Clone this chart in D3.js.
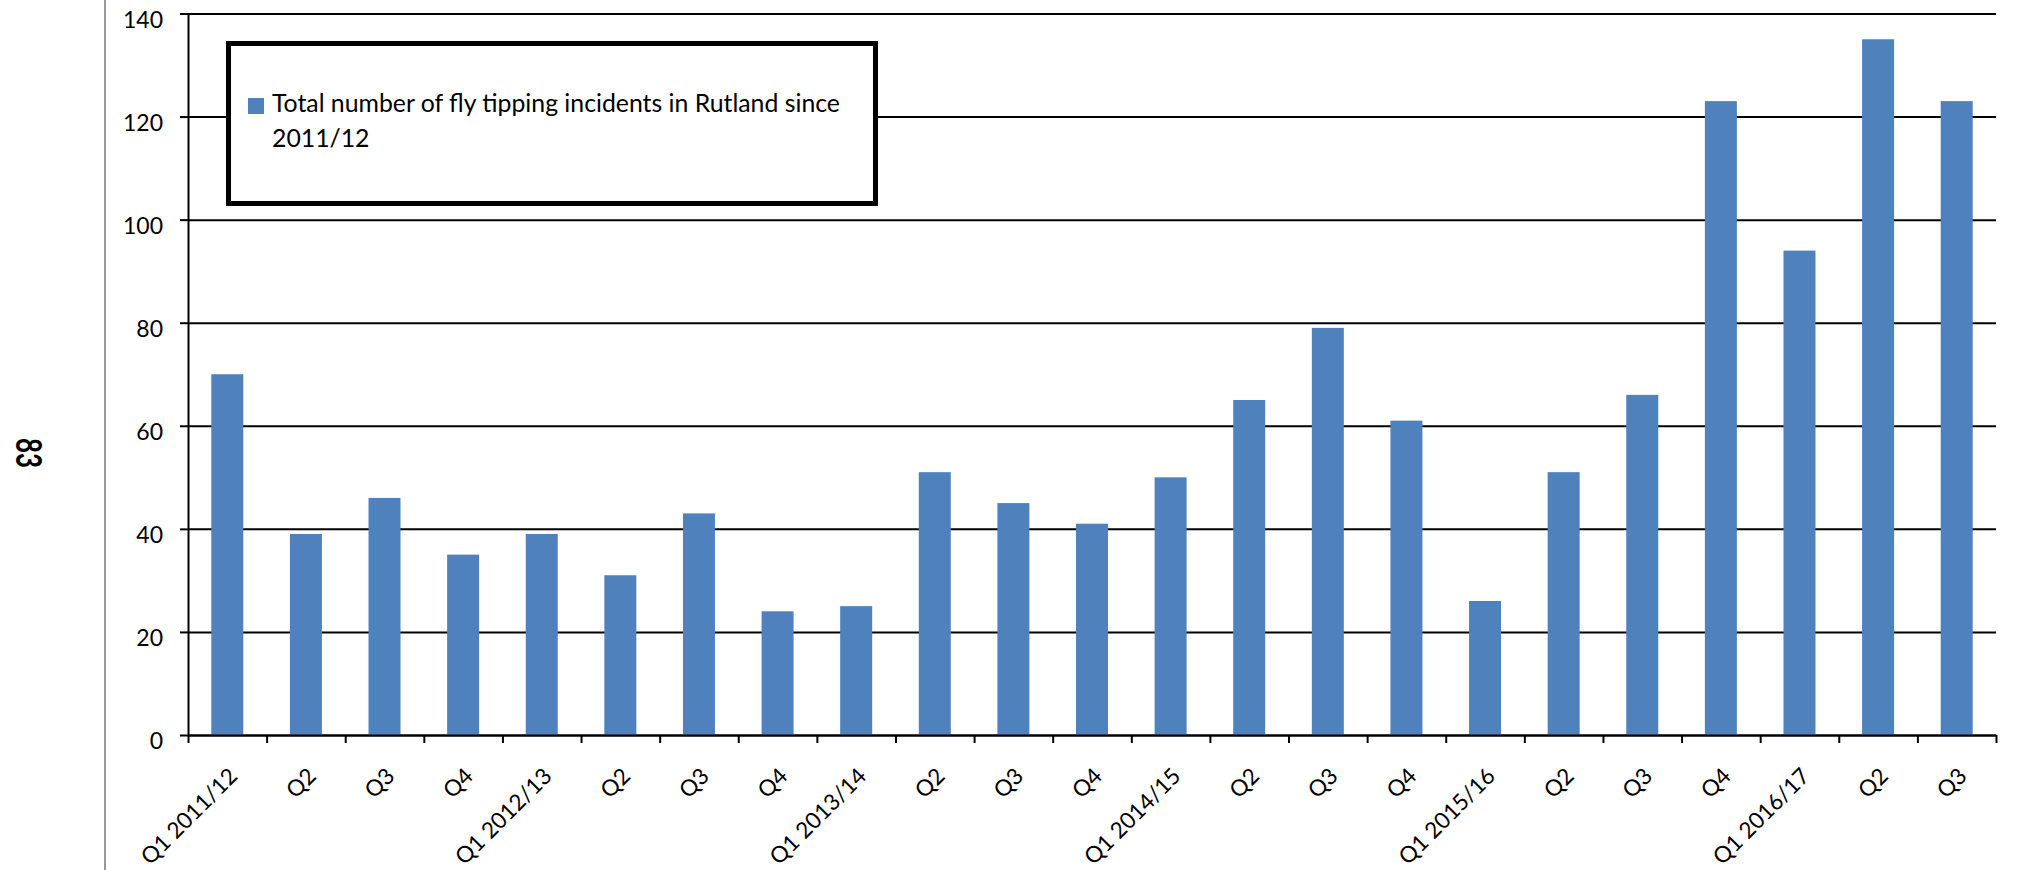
<!DOCTYPE html>
<html>
<head>
<meta charset="utf-8">
<script src="https://cdn.jsdelivr.net/npm/d3@7"></script>
<style>
  html, body { margin: 0; padding: 0; background: #fff; }
  svg { display: block; font-family: Lato, "Open Sans", sans-serif; }
  .axis text { font-family: Lato, "Open Sans", sans-serif; font-size: 23px; fill: #000; }
  .axis.xlab text { font-size: 22.5px; }
  .axis path, .axis line { stroke: #000; stroke-width: 2; }
  .grid line { stroke: #000; stroke-width: 2; }
  .grid path { display: none; }
</style>
</head>
<body>
<div id="chart"></div>
<script>
// quarterly fly tipping counts, Rutland
var quarters = [
  '2011/12 Q1', '2011/12 Q2', '2011/12 Q3', '2011/12 Q4',
  '2012/13 Q1', '2012/13 Q2', '2012/13 Q3', '2012/13 Q4',
  '2013/14 Q1', '2013/14 Q2', '2013/14 Q3', '2013/14 Q4',
  '2014/15 Q1', '2014/15 Q2', '2014/15 Q3', '2014/15 Q4',
  '2015/16 Q1', '2015/16 Q2', '2015/16 Q3', '2015/16 Q4',
  '2016/17 Q1', '2016/17 Q2', '2016/17 Q3'
];
var tickLabels = [
  'Q1 2011/12', 'Q2', 'Q3', 'Q4',
  'Q1 2012/13', 'Q2', 'Q3', 'Q4',
  'Q1 2013/14', 'Q2', 'Q3', 'Q4',
  'Q1 2014/15', 'Q2', 'Q3', 'Q4',
  'Q1 2015/16', 'Q2', 'Q3', 'Q4',
  'Q1 2016/17', 'Q2', 'Q3'
];
var incidents = [70, 39, 46, 35, 39, 31, 43, 24, 25, 51, 45, 41, 50, 65, 79, 61, 26, 51, 66, 123, 94, 135, 123];
var yTicks = [0, 20, 40, 60, 80, 100, 120, 140];
var seriesName = 'Total number of fly tipping incidents in Rutland since';
var seriesName2 = '2011/12';
var pageNumber = '83';

var width = 2022, height = 870;
var plot = { left: 188, right: 1996, top: 13.5, bottom: 735 };
var barColor = '#4f81bd';

var svg = d3.select('#chart')
  .append('svg')
  .attr('width', width)
  .attr('height', height);

svg.append('rect')
  .attr('width', width)
  .attr('height', height)
  .attr('fill', '#fff');

// page margin rule + rotated page number
svg.append('line')
  .attr('x1', 105).attr('x2', 105)
  .attr('y1', 0).attr('y2', height)
  .attr('stroke', '#999')
  .attr('stroke-width', 2);

svg.append('text')
  .attr('transform', 'translate(16, 453) rotate(90)')
  .attr('text-anchor', 'middle')
  .attr('font-size', '36px')
  .attr('font-weight', 'bold')
  .attr('textLength', 30)
  .attr('lengthAdjust', 'spacingAndGlyphs')
  .text(pageNumber);

var y = d3.scaleLinear()
  .domain([0, 140])
  .range([plot.bottom, plot.top]);

var x = d3.scaleBand()
  .domain(quarters)
  .range([plot.left, plot.right])
  .paddingInner(0.593)
  .paddingOuter(0.2965);

var xEdge = d3.scaleLinear()
  .domain([0, quarters.length])
  .range([plot.left, plot.right]);

// gridlines
svg.append('g')
  .attr('class', 'grid')
  .attr('transform', 'translate(' + plot.left + ',0)')
  .call(d3.axisLeft(y).tickValues(yTicks).tickSize(-(plot.right - plot.left)).tickFormat(''));

// bars
svg.append('g')
  .selectAll('rect')
  .data(incidents)
  .enter()
  .append('rect')
  .attr('x', (d, i) => x(quarters[i]))
  .attr('y', d => y(d))
  .attr('width', x.bandwidth())
  .attr('height', d => y(0) - y(d))
  .attr('fill', barColor);

// y axis
var yAxis = svg.append('g')
  .attr('class', 'axis')
  .attr('transform', 'translate(' + plot.left + ',0)')
  .call(d3.axisLeft(y).tickValues(yTicks).tickSizeInner(8).tickSizeOuter(0).tickPadding(17));
yAxis.selectAll('text').attr('dy', '0.6em');

// x axis: tick marks on category edges
svg.append('g')
  .attr('class', 'axis')
  .attr('transform', 'translate(0,' + plot.bottom + ')')
  .call(d3.axisBottom(xEdge).tickValues(d3.range(quarters.length + 1)).tickSizeInner(8).tickSizeOuter(0).tickFormat(''));

// x labels, rotated
var xLab = svg.append('g')
  .attr('class', 'axis xlab')
  .attr('transform', 'translate(0,' + plot.bottom + ')')
  .call(d3.axisBottom(x).tickSize(0).tickFormat((d, i) => tickLabels[i]));
xLab.select('.domain').remove();
xLab.selectAll('text')
  .attr('x', 0)
  .attr('y', 0)
  .attr('dy', '0.72em')
  .attr('text-anchor', 'end')
  .attr('transform', 'translate(0,31) rotate(-45)');

// legend
var legend = svg.append('g');
legend.append('rect')
  .attr('x', 228.5).attr('y', 43.5)
  .attr('width', 647).attr('height', 160)
  .attr('fill', '#fff')
  .attr('stroke', '#000')
  .attr('stroke-width', 5);
legend.append('rect')
  .attr('x', 248).attr('y', 98)
  .attr('width', 16).attr('height', 16)
  .attr('fill', barColor);
legend.append('text')
  .attr('x', 272).attr('y', 112)
  .attr('font-size', '24.8px')
  .text(seriesName);
legend.append('text')
  .attr('x', 272).attr('y', 146.5)
  .attr('font-size', '24.8px')
  .text(seriesName2);
</script>
</body>
</html>
